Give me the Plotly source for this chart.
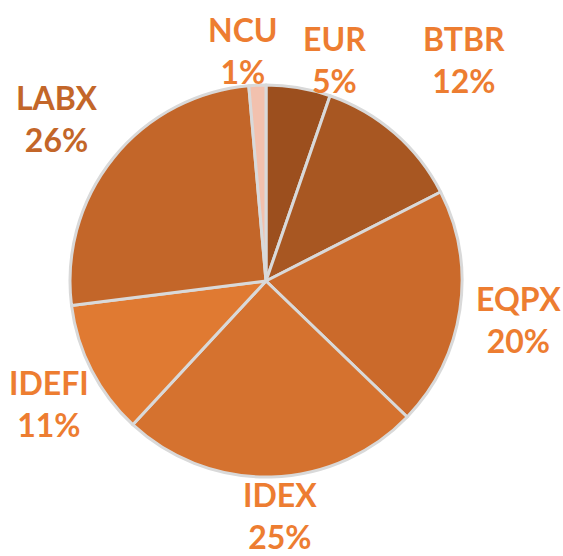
import plotly.graph_objects as go

categories = ["EUR", "BTBR", "EQPX", "IDEX", "IDEFI", "LABX", "NCU"]
values = [5.3, 12.2, 19.7, 24.7, 11.1, 25.6, 1.4]

slice_colors = ["#9C4F1E", "#A85722", "#CB6A2B", "#D5722F", "#E07A32", "#C36629", "#F2C1AE"]
label_colors = ["#ED7D31", "#ED7D31", "#ED7D31", "#ED7D31", "#ED7D31", "#C36629", "#ED7D31"]
# label centres in pixels (x, y from top)
label_pos = [(334, 59), (464, 59), (518, 319), (280, 515), (49, 403), (57, 118), (243, 51)]

W, H = 563, 556
cx, cy, r = 266, 281, 196

fig = go.Figure(go.Pie(
    labels=categories, values=values, sort=False, direction="clockwise", rotation=0,
    marker=dict(colors=slice_colors, line=dict(color="#D9D9D9", width=3)),
    textinfo="none", hoverinfo="label+percent", showlegend=False,
    domain=dict(x=[(cx - r) / W, (cx + r) / W], y=[1 - (cy + r) / H, 1 - (cy - r) / H]),
))

total = sum(values)
for cat, v, col, (px, py) in zip(categories, values, label_colors, label_pos):
    fig.add_annotation(
        x=px / W, y=1 - py / H, xref="paper", yref="paper", showarrow=False,
        text=f"<b>{cat}</b><br><b>{round(100 * v / total)}%</b>",
        font=dict(family="Lato", size=32, color=col), align="center",
        xanchor="center", yanchor="middle",
    )

fig.update_layout(width=W, height=H, margin=dict(l=0, r=0, t=0, b=0),
                  paper_bgcolor="white", plot_bgcolor="white")
fig.write_html("out.html", config={"displayModeBar": False},
               post_script="document.body.style.margin='0';")
